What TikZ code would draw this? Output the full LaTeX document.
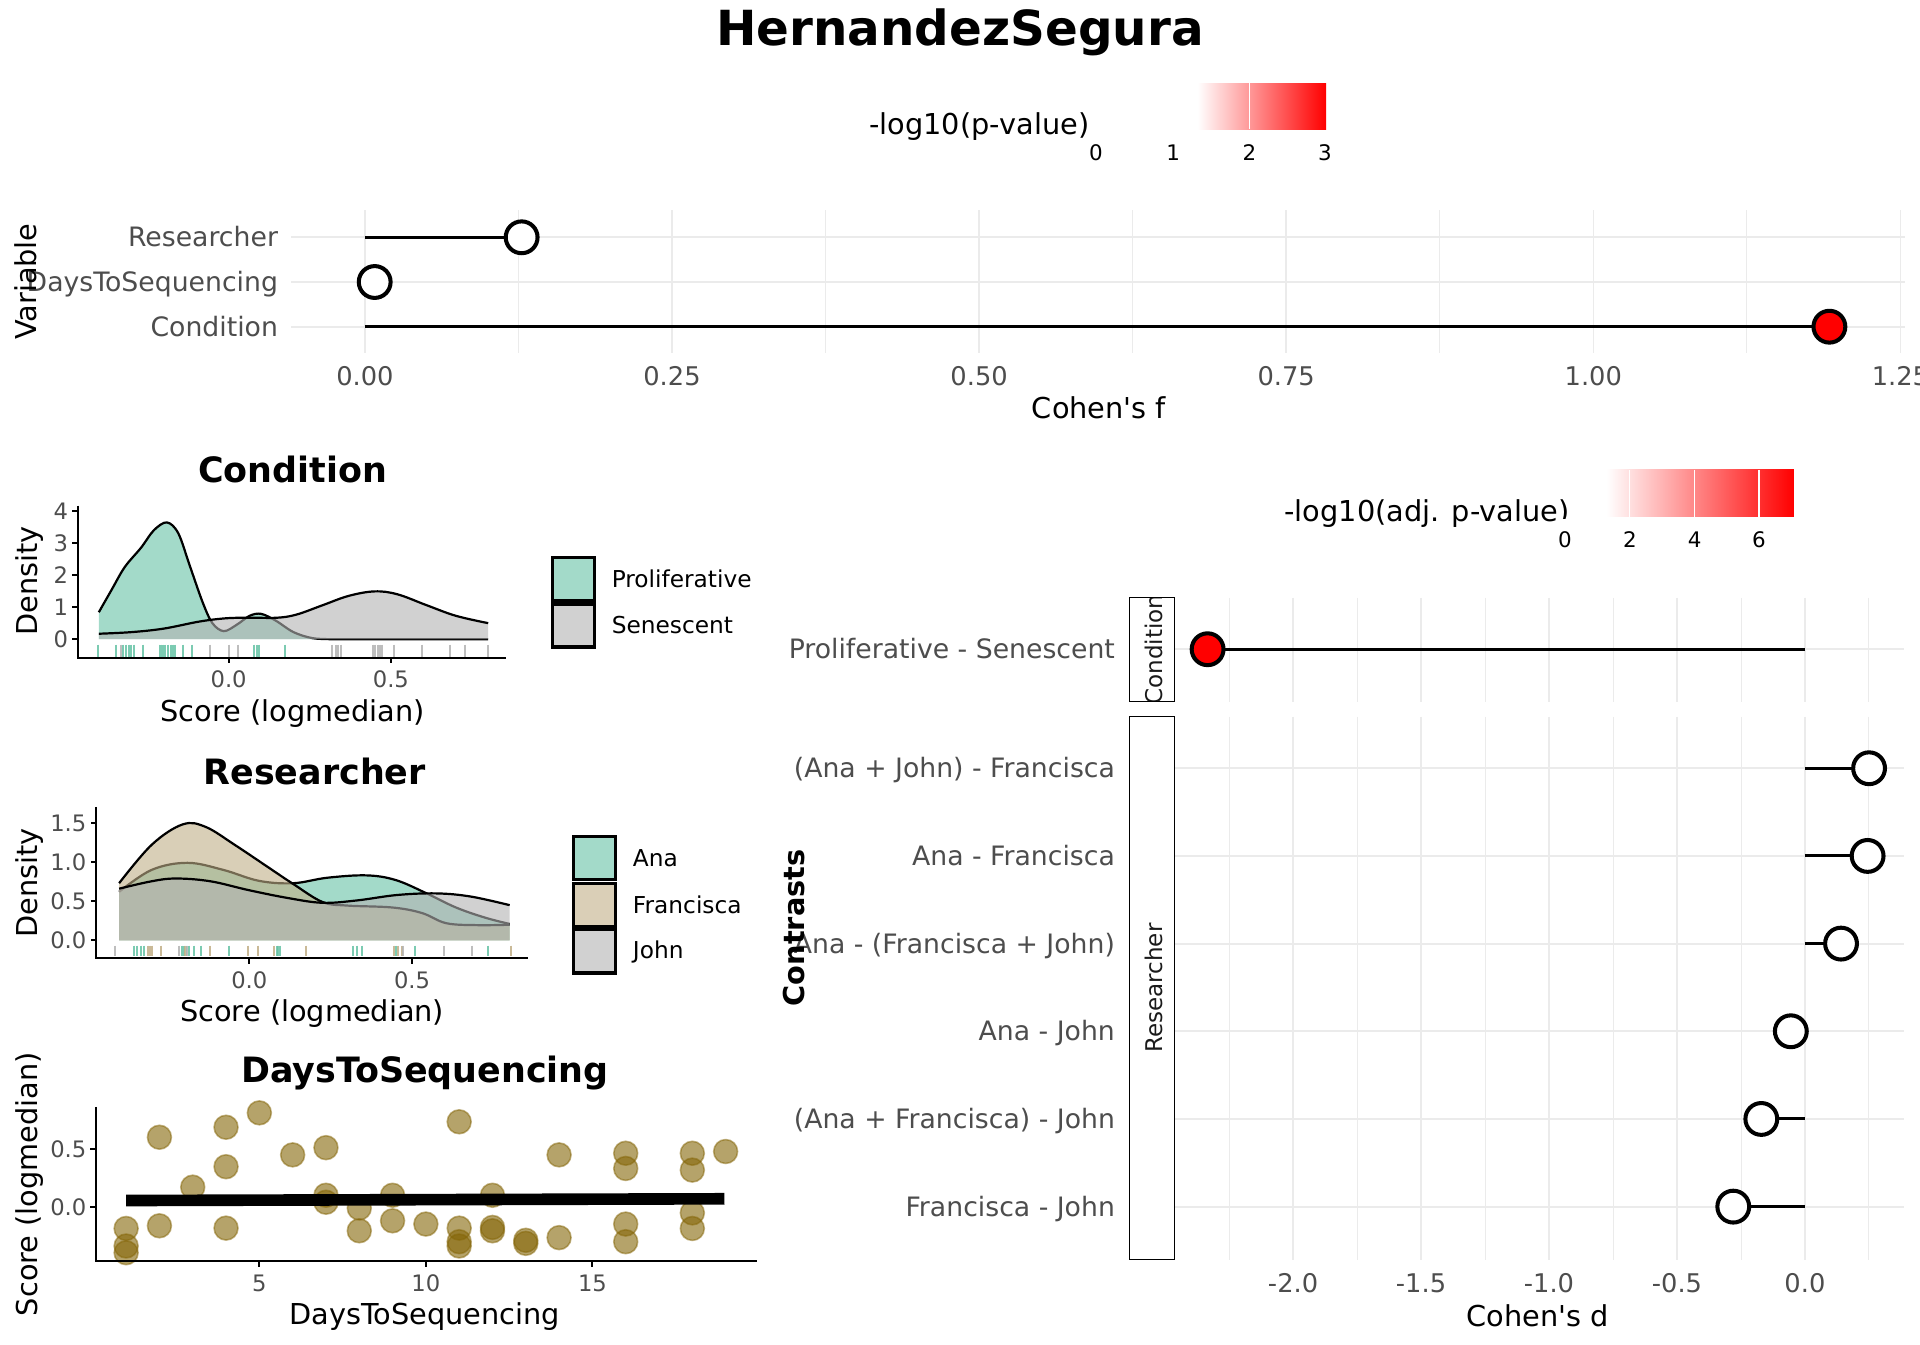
\documentclass[tikz,border=0pt]{standalone}
\usepackage{fontspec}
\setmainfont{DejaVu Sans}[Ligatures=TeXOff]
\definecolor{gridc}{HTML}{EBEBEB}
\definecolor{axtext}{HTML}{4D4D4D}
\definecolor{tealc}{HTML}{66C2A5}
\definecolor{tanc}{RGB}{193,175,135}
\definecolor{greyc}{HTML}{B3B3B3}
\definecolor{goldc}{RGB}{133,102,8}
\definecolor{stripc}{HTML}{1A1A1A}
\definecolor{tealkey}{RGB}{163,218,201}
\definecolor{tankey}{RGB}{218,207,183}
\definecolor{greykey}{RGB}{209,209,209}
\newcommand{\fsz}[1]{\fontsize{#1}{#1}\selectfont}
\begin{document}
\begin{tikzpicture}[x=1pt,y=-1pt,
  every node/.style={inner sep=0pt,outer sep=0pt},
  ticklab/.style={font=\fsz{21},text=axtext,anchor=base},
  catlab/.style={font=\fsz{21.8},text=axtext,anchor=base east},
  axtitle/.style={font=\fsz{23.5},anchor=base},
  ytitle/.style={font=\fsz{23.5},anchor=base,rotate=90},
  ybtitle/.style={font=\bfseries\fsz{23.5},anchor=base,rotate=90},
  ptitle/.style={font=\bfseries\fsz{28.5},anchor=base},
  smalltick/.style={font=\fsz{18.5},text=axtext,anchor=base},
  smallytick/.style={font=\fsz{18.5},text=axtext,anchor=base east},
  leglab/.style={font=\fsz{19},anchor=base west},
  legtitle/.style={font=\fsz{23.5},anchor=base west},
  barlab/.style={font=\fsz{17.5},anchor=base},
  majgrid/.style={gridc,line width=1.2pt},
  mingrid/.style={gridc,line width=0.7pt},
  hgrid/.style={gridc,line width=1.8pt},
  stem/.style={black,line width=2.4pt},
  lolli/.style={circle,draw=black,line width=3.3pt,fill=white,minimum size=26pt},
  lollired/.style={lolli,fill=red},
  axisline/.style={black,line width=1.6pt},
  tickmark/.style={black,line width=1.6pt},
  keybox/.style={draw=black,line width=2.6pt},
  dens/.style={black,line width=1.8pt},
  stripbox/.style={draw=black,line width=0.9pt},
  striptxt/.style={font=\fsz{18.8},text=stripc,rotate=90},
  dot/.style={circle,fill=goldc,fill opacity=0.6,draw=goldc,draw opacity=0.5,line width=1.3pt,minimum size=19.5pt},
  rugt/.style={tealc,opacity=0.85,line width=1.6pt},
  rugg/.style={greyc,opacity=0.85,line width=1.6pt},
  rugf/.style={tanc,opacity=0.85,line width=1.6pt},
  barwt/.style={white,line width=1pt}
]
\useasboundingbox (0,0) rectangle (1568,1097.6);
\fill[white] (0,0) rectangle (1568,1097.6);

% ---------------- title
\node[font=\bfseries\fsz{39.5},anchor=base] (title) at (784,37) {HernandezSegura};

% ---------------- top legend
\node[legtitle] (lt1) at (710,110) {-log10(p-value)};
\shade[left color=white,right color=red] (978,68) rectangle (1083,105.6);
\draw[barwt] (1020.3,68) -- (1020.3,105.6);
\node[barlab] (b10) at (895,131.2) {0};
\node[barlab] (b11) at (958,131.2) {1};
\node[barlab] (b12) at (1020.3,131.2) {2};
\node[barlab] (b13) at (1082,131.2) {3};

% ---------------- top panel (Cohen's f)
\foreach \xx in {423.4,674.2,925,1175.8,1426.6} \draw[mingrid] (\xx,171.5) -- (\xx,288);
\foreach \xx in {298,548.8,799.6,1050.4,1301.2,1552} \draw[majgrid] (\xx,171.5) -- (\xx,288);
\foreach \yy in {193.8,230.3,266.8} \draw[hgrid] (238,\yy) -- (1556,\yy);
\coordinate (f0a) at (298,193.8);
\coordinate (f0b) at (298,230.3);
\coordinate (f0c) at (298,266.8);
\coordinate (fRc) at (426,193.8);
\coordinate (fDc) at (306,230.3);
\coordinate (fCc) at (1494,266.8);
\draw[stem] (f0a) -- (fRc);
\draw[stem] (f0b) -- (fDc);
\draw[stem] (f0c) -- (fCc);
\node[lolli] (fR) at (fRc) {};
\node[lolli] (fD) at (fDc) {};
\node[lollired] (fC) at (fCc) {};
\node[catlab] (cR) at (227,201.6) {Researcher};
\node[catlab] (cD) at (227,238.1) {DaysToSequencing};
\node[catlab] (cC) at (227,274.6) {Condition};
\node[ticklab] (t1) at (298,314.5) {0.00};
\node[ticklab] (t2) at (548.8,314.5) {0.25};
\node[ticklab] (t3) at (799.6,314.5) {0.50};
\node[ticklab] (t4) at (1050.4,314.5) {0.75};
\node[ticklab] (t5) at (1301.2,314.5) {1.00};
\node[ticklab] (t6) at (1552,314.5) {1.25};
\node[axtitle] (xf) at (897.5,341.6) {Cohen's f};
\node[ytitle] (yv) at (30,230) {Variable};

% ---------------- Condition density plot
\node[ptitle] (pt1) at (239,394) {Condition};
\begin{scope}[shift={(186.7,522)},xscale=265,yscale=-26.2]
  \fill[tealc,opacity=0.6] plot[smooth,tension=0.55] coordinates {(-0.4,0.84) (-0.36,1.55) (-0.32,2.25) (-0.27,2.85) (-0.23,3.4) (-0.19,3.64) (-0.155,3.3) (-0.12,2.3) (-0.08,1.15) (-0.05,0.5) (-0.015,0.25) (0.025,0.45) (0.065,0.73) (0.1,0.79) (0.145,0.58) (0.2,0.22) (0.26,0.03) (0.33,0)} -- (0.8,0) -- (-0.4,0) -- cycle;
  \draw[dens] plot[smooth,tension=0.55] coordinates {(-0.4,0.84) (-0.36,1.55) (-0.32,2.25) (-0.27,2.85) (-0.23,3.4) (-0.19,3.64) (-0.155,3.3) (-0.12,2.3) (-0.08,1.15) (-0.05,0.5) (-0.015,0.25) (0.025,0.45) (0.065,0.73) (0.1,0.79) (0.145,0.58) (0.2,0.22) (0.26,0.03) (0.33,0)} -- (0.8,0);
  \fill[greyc,opacity=0.6] plot[smooth,tension=0.6] coordinates {(-0.4,0.17) (-0.3,0.22) (-0.2,0.33) (-0.09,0.55) (-0.01,0.65) (0.06,0.67) (0.15,0.67) (0.21,0.77) (0.29,1.06) (0.37,1.35) (0.45,1.49) (0.52,1.40) (0.61,1.06) (0.70,0.73) (0.8,0.50)} -- (0.8,0) -- (-0.4,0) -- cycle;
  \draw[dens] plot[smooth,tension=0.6] coordinates {(-0.4,0.17) (-0.3,0.22) (-0.2,0.33) (-0.09,0.55) (-0.01,0.65) (0.06,0.67) (0.15,0.67) (0.21,0.77) (0.29,1.06) (0.37,1.35) (0.45,1.49) (0.52,1.40) (0.61,1.06) (0.70,0.73) (0.8,0.50)};
  \foreach \v in {-0.403,-0.346,-0.324,-0.316,-0.308,-0.3,-0.293,-0.263,-0.213,-0.207,-0.202,-0.195,-0.187,-0.179,-0.172,-0.164,-0.141,-0.114,0.079,0.086,0.094,0.175}
    \draw[rugt] (\v,-0.17) -- (\v,-0.546);
  \foreach \v in {-0.331,-0.057,0.0,0.029,0.319,0.33,0.337,0.346,0.444,0.451,0.459,0.466,0.474,0.509,0.596,0.682,0.728,0.798}
    \draw[rugg] (\v,-0.17) -- (\v,-0.546);
\end{scope}
\draw[axisline] (63.5,413) -- (63.5,537.2) -- (413,537.2);
\foreach \yy/\lab in {522/0,495.8/1,469.6/2,443.4/3,417.2/4} {
  \draw[tickmark] (63.5,\yy) -- (59,\yy);
  \node[smallytick] (cy\lab) at (55.5,\yy+6.7) {\lab};
}
\draw[tickmark] (186.7,537.2) -- (186.7,541.7);
\draw[tickmark] (319.2,537.2) -- (319.2,541.7);
\node[smalltick] (cx0) at (186.7,561.5) {0.0};
\node[smalltick] (cx5) at (319.2,561.5) {0.5};
\node[axtitle] (cxl) at (239,589.4) {Score (logmedian)};
\node[ytitle] (cyl) at (31,474.4) {Density};
\draw[keybox,fill=tealkey] (451.3,455.1) rectangle (485.5,490.3);
\draw[keybox,fill=greykey] (451.3,493.2) rectangle (485.5,528.4);
\node[leglab] (lP) at (499.6,479.5) {Proliferative};
\node[leglab] (lS) at (499.6,517.6) {Senescent};

% ---------------- Researcher density plot
\node[ptitle] (pt2) at (257,640.7) {Researcher};
\begin{scope}[shift={(203.6,768)},xscale=265.8,yscale=-64]
  \fill[tealc,opacity=0.6] plot[smooth,tension=0.6] coordinates {(-0.4,0.62) (-0.3,0.90) (-0.19,0.99) (-0.08,0.90) (0.03,0.76) (0.135,0.73) (0.24,0.80) (0.36,0.83) (0.45,0.77) (0.545,0.60) (0.635,0.42) (0.725,0.29) (0.8,0.21)} -- (0.8,0) -- (-0.4,0) -- cycle;
  \draw[dens] plot[smooth,tension=0.6] coordinates {(-0.4,0.62) (-0.3,0.90) (-0.19,0.99) (-0.08,0.90) (0.03,0.76) (0.135,0.73) (0.24,0.80) (0.36,0.83) (0.45,0.77) (0.545,0.60) (0.635,0.42) (0.725,0.29) (0.8,0.21)};
  \fill[tanc,opacity=0.6] plot[smooth,tension=0.6] coordinates {(-0.4,0.73) (-0.3,1.22) (-0.205,1.48) (-0.135,1.45) (-0.045,1.22) (0.045,0.97) (0.135,0.72) (0.225,0.49) (0.3,0.445) (0.44,0.42) (0.53,0.35) (0.605,0.22) (0.7,0.195) (0.8,0.2)} -- (0.8,0) -- (-0.4,0) -- cycle;
  \draw[dens] plot[smooth,tension=0.6] coordinates {(-0.4,0.73) (-0.3,1.22) (-0.205,1.48) (-0.135,1.45) (-0.045,1.22) (0.045,0.97) (0.135,0.72) (0.225,0.49) (0.3,0.445) (0.44,0.42) (0.53,0.35) (0.605,0.22) (0.7,0.195) (0.8,0.2)};
  \fill[greyc,opacity=0.6] plot[smooth,tension=0.6] coordinates {(-0.4,0.66) (-0.3,0.755) (-0.225,0.79) (-0.12,0.755) (0.0,0.64) (0.12,0.54) (0.225,0.48) (0.33,0.51) (0.455,0.58) (0.575,0.60) (0.68,0.56) (0.8,0.45)} -- (0.8,0) -- (-0.4,0) -- cycle;
  \draw[dens] plot[smooth,tension=0.6] coordinates {(-0.4,0.66) (-0.3,0.755) (-0.225,0.79) (-0.12,0.755) (0.0,0.64) (0.12,0.54) (0.225,0.48) (0.33,0.51) (0.455,0.58) (0.575,0.60) (0.68,0.56) (0.8,0.45)};
  \foreach \v in {-0.355,-0.346,-0.334,-0.323,-0.207,-0.2,-0.193,-0.184,-0.169,-0.149,-0.061,0.084,0.089,0.094,0.32,0.33,0.345,0.451,0.509,0.732}
    \draw[rugt] (\v,-0.065) -- (\v,-0.2);
  \foreach \v in {-0.31,-0.305,-0.298,-0.272,-0.198,-0.121,-0.003,0.028,0.077,0.173,0.446,0.458,0.468,0.803}
    \draw[rugf] (\v,-0.065) -- (\v,-0.2);
  \foreach \v in {-0.412,-0.215,-0.191,0.471,0.598,0.685}
    \draw[rugg] (\v,-0.065) -- (\v,-0.2);
\end{scope}
\draw[axisline] (78.5,658.9) -- (78.5,782.5) -- (431,782.5);
\foreach \yy/\lab/\nm in {768/0.0/a,736/0.5/b,704/1.0/c,672/1.5/d} {
  \draw[tickmark] (78.5,\yy) -- (74,\yy);
  \node[smallytick] (ry\nm) at (70.5,\yy+6.7) {\lab};
}
\draw[tickmark] (203.6,782.5) -- (203.6,787);
\draw[tickmark] (336.5,782.5) -- (336.5,787);
\node[smalltick] (rx0) at (203.6,807.2) {0.0};
\node[smalltick] (rx5) at (336.5,807.2) {0.5};
\node[axtitle] (rxl) at (255,834) {Score (logmedian)};
\node[ytitle] (ryl) at (31,721) {Density};
\draw[keybox,fill=tealkey] (468.6,683.2) rectangle (502.8,718.3);
\draw[keybox,fill=tankey] (468.6,721.3) rectangle (502.8,756.4);
\draw[keybox,fill=greykey] (468.6,759.4) rectangle (502.8,794.6);
\node[leglab] (lA) at (516.9,708) {Ana};
\node[leglab] (lF) at (516.9,746) {Francisca};
\node[leglab] (lJ) at (516.9,783) {John};

% ---------------- DaysToSequencing scatter
\node[ptitle] (pt3) at (347,884) {DaysToSequencing};
\begin{scope}[shift={(75.8,985.6)},xscale=27.2,yscale=-94.8]
  \foreach \d/\v [count=\i] in {1/-0.186,1/-0.337,1/-0.395,2/0.6,2/-0.163,3/0.17,4/0.686,4/0.346,4/-0.183,5/0.81,6/0.448,7/0.51,7/0.1,7/0.04,8/-0.01,8/-0.206,9/0.1,9/-0.12,10/-0.148,11/0.733,11/-0.183,11/-0.30,11/-0.337,12/0.1,12/-0.177,12/-0.206,13/-0.288,13/-0.314,14/0.448,14/-0.265,16/0.462,16/0.331,16/-0.148,16/-0.30,18/0.462,18/0.317,18/-0.052,18/-0.186,19/0.477}
    \node[dot] (pt\i) at (\d,\v) {};
  \coordinate (rl0) at (1,0.055);
  \coordinate (rl1) at (19,0.07);
  \draw[black,line width=9.5pt] (rl0) -- (rl1);
\end{scope}
\draw[axisline] (78.3,904) -- (78.3,1029.8) -- (618,1029.8);
\draw[tickmark] (78.3,985.6) -- (73.8,985.6);
\draw[tickmark] (78.3,938.2) -- (73.8,938.2);
\node[smallytick] (dy0) at (70.5,992.3) {0.0};
\node[smallytick] (dy5) at (70.5,944.9) {0.5};
\foreach \xx/\lab in {211.8/5,347.8/10,483.8/15} {
  \draw[tickmark] (\xx,1029.8) -- (\xx,1034.3);
  \node[smalltick] (dx\lab) at (\xx,1054.6) {\lab};
}
\node[axtitle] (dxl) at (346.8,1082) {DaysToSequencing};
\node[ytitle] (dyl) at (31,967) {Score (logmedian)};

% ---------------- right legend
\node[legtitle] (lt2) at (1049,426) {-log10(adj. p-value)};
\shade[left color=white,right color=red] (1312,383.8) rectangle (1465,421.9);
\foreach \xx in {1331,1384,1436.5} \draw[barwt] (\xx,383.8) -- (\xx,421.9);
\fill[white] (1271,423.5) rectangle (1287,434);
\node[barlab] (b20) at (1278,447.5) {0};
\node[barlab] (b22) at (1331,447.5) {2};
\node[barlab] (b24) at (1384,447.5) {4};
\node[barlab] (b26) at (1436.5,447.5) {6};

% ---------------- right panel (Cohen's d)
\foreach \ya/\yb in {488/573,585.2/1028.6} {
  \foreach \xx in {1003.75,1108.25,1212.75,1317.25,1421.75,1526.25} \draw[mingrid] (\xx,\ya) -- (\xx,\yb);
  \foreach \xx in {1056,1160.5,1265,1369.5,1474} \draw[majgrid] (\xx,\ya) -- (\xx,\yb);
}
\foreach \yy in {530.2,627.4,699,770.6,842.2,913.8,985.4} \draw[hgrid] (959,\yy) -- (1555,\yy);
% strips
\begin{scope}
  \clip (922.2,488) rectangle (959,573);
  \node[striptxt] (sC) at (942,530.5) {Condition};
\end{scope}
\draw[stripbox] (922.2,488) rectangle (959,573);
\draw[stripbox] (922.2,585.2) rectangle (959,1028.6);
\node[striptxt] (sR) at (942,806.9) {Researcher};
% lollipops
\foreach \yy/\xx/\nm in {530.2/986.2/1,627.4/1526.4/2,699/1525.2/3,770.6/1503.5/4,842.2/1462.5/5,913.8/1438.4/6,985.4/1415.5/7} {
  \coordinate (z\nm) at (1474,\yy);
  \coordinate (c\nm) at (\xx,\yy);
  \draw[stem] (z\nm) -- (c\nm);
}
\node[lollired] (d1) at (c1) {};
\node[lolli] (d2) at (c2) {};
\node[lolli] (d3) at (c3) {};
\node[lolli] (d4) at (c4) {};
\node[lolli] (d5) at (c5) {};
\node[lolli] (d6) at (c6) {};
\node[lolli] (d7) at (c7) {};
\node[catlab] (k1) at (910.5,538) {Proliferative - Senescent};
\node[catlab] (k2) at (910.5,635.2) {(Ana + John) - Francisca};
\node[catlab] (k3) at (910.5,706.8) {Ana - Francisca};
\node[catlab] (k4) at (910.5,778.4) {Ana - (Francisca + John)};
\node[catlab] (k5) at (910.5,850) {Ana - John};
\node[catlab] (k6) at (910.5,921.6) {(Ana + Francisca) - John};
\node[catlab] (k7) at (910.5,993.2) {Francisca - John};
\node[ybtitle] (yc) at (657,757.8) {Contrasts};
\node[ticklab] (e1) at (1056,1055.5) {-2.0};
\node[ticklab] (e2) at (1160.5,1055.5) {-1.5};
\node[ticklab] (e3) at (1265,1055.5) {-1.0};
\node[ticklab] (e4) at (1369.5,1055.5) {-0.5};
\node[ticklab] (e5) at (1474,1055.5) {0.0};
\node[axtitle] (xd) at (1256,1083) {Cohen's d};
\end{tikzpicture}
\end{document}
